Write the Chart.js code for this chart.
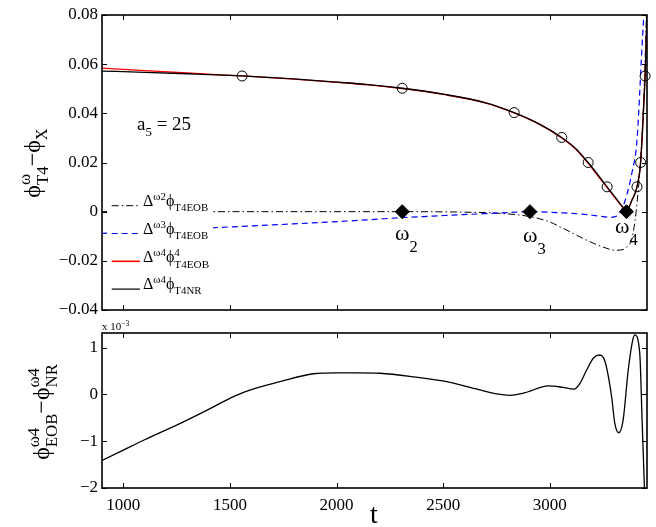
<!DOCTYPE html>
<html lang="en">
<head>
<meta charset="UTF-8">
<title>T4 phase differences, a5 = 25</title>
<style>
  body { margin: 0; background: #fff; overflow: hidden; }
  #fig { position: relative; width: 656px; height: 527px; font-family: "Liberation Serif", "DejaVu Serif", serif; color: #000; }
  .box { position: absolute; left: 0; width: 656px; }
  .lbl { position: absolute; white-space: nowrap; line-height: 1; }
  .rot { transform: translate(-50%, -50%) rotate(-90deg); }
  .sup { position: relative; font-size: 0.68em; top: -0.55em; }
  .sub { position: relative; font-size: 0.68em; top: 0.5em; }
  .osub { position: relative; font-size: 0.75em; top: 0.75em; }
  .stk { display: inline-block; font-size: 0.7em; line-height: 1.05; vertical-align: -0.5em; }
  .stk > span { display: block; }
  #legend { position: absolute; left: 107px; top: 193px; width: 106px; height: 108px; background: #fff; }
  #legend .row { position: absolute; left: 36px; font-size: 16px; line-height: 1; white-space: nowrap; }
</style>
</head>
<body>
<div id="fig">
  <div class="box" style="top:0;height:330px"><canvas id="topChart"></canvas></div>
  <div class="box" style="top:318px;height:209px"><canvas id="bottomChart"></canvas></div>

  <!-- axis titles and annotations -->
  <div class="lbl rot" style="left:34px;top:163px;font-size:24px">ϕ<span class="stk"><span>ω</span><span>T4</span></span>−ϕ<span class="sub">X</span></div>
  <div class="lbl rot" style="left:43px;top:412px;font-size:24px">ϕ<span class="stk"><span>ω4</span><span>EOB</span></span>−ϕ<span class="stk"><span>ω4</span><span>NR</span></span></div>
  <div class="lbl" style="left:374px;top:500px;font-size:28px;transform:translateX(-50%)">t</div>
  <div class="lbl" style="left:102px;top:321px;font-size:11px">x 10<span class="sup">−3</span></div>
  <div class="lbl" style="left:137px;top:114px;font-size:19px">a<span class="sub">5</span> = 25</div>
  <div class="lbl" style="left:395px;top:222px;font-size:22px">ω<span class="osub">2</span></div>
  <div class="lbl" style="left:523px;top:224px;font-size:22px">ω<span class="osub">3</span></div>
  <div class="lbl" style="left:615px;top:215px;font-size:22px">ω<span class="osub">4</span></div>

  <div id="legend">
    <svg width="106" height="108" style="position:absolute;left:0;top:0">
      <line x1="4.7" x2="33" y1="12.7" y2="12.7" stroke="#000" stroke-width="1" stroke-dasharray="7,3,1.5,3"/>
      <line x1="4.7" x2="33" y1="40.5" y2="40.5" stroke="#0000ff" stroke-width="1.2" stroke-dasharray="6,4"/>
      <line x1="4.7" x2="33" y1="68.3" y2="68.3" stroke="#ff0000" stroke-width="1.6"/>
      <line x1="4.7" x2="33" y1="96.1" y2="96.1" stroke="#000" stroke-width="1.2"/>
    </svg>
    <div class="row" style="top:0px">Δ<span class="sup">ω2</span>ϕ<span class="sub">T4EOB</span></div>
    <div class="row" style="top:28px">Δ<span class="sup">ω3</span>ϕ<span class="sub">T4EOB</span></div>
    <div class="row" style="top:54px">Δ<span class="sup">ω4</span>ϕ<span class="stk"><span>4</span><span>T4EOB</span></span></div>
    <div class="row" style="top:83px">Δ<span class="sup">ω4</span>ϕ<span class="sub">T4NR</span></div>
  </div>
</div>

<script src="https://cdn.jsdelivr.net/npm/chart.js@4"></script>
<script>
// axis limits and tick positions
const xMin = 900, xMax = 3456;
const xTicks = [1000, 1500, 2000, 2500, 3000];
const yTicksTop = [-0.04, -0.02, 0, 0.02, 0.04, 0.06, 0.08];
const yTicksBottom = [-2, -1, 0, 1];

// omega4-aligned phase differences (NR in black, EOB in red) share the same t samples
const tMain = [900, 1100, 1300, 1557, 1800, 1970, 2150, 2308, 2500, 2700, 2833, 2950, 3056, 3120, 3180, 3230, 3269, 3310, 3340, 3360, 3385, 3409, 3426, 3440, 3447, 3456];
const phiNR = [0.0572, 0.0567, 0.0561, 0.0552, 0.0540, 0.0529, 0.0517, 0.0502, 0.0478, 0.0443, 0.0403, 0.0357, 0.0302, 0.0258, 0.0200, 0.0145, 0.0101, 0.0055, 0.0022, 0.0004, 0.0046, 0.0101, 0.0200, 0.0420, 0.0552, 0.0800];
const phiEOB4 = [0.0584, 0.0574, 0.0564, 0.0552, 0.0539, 0.0528, 0.0516, 0.0501, 0.0477, 0.0442, 0.0402, 0.0356, 0.0300, 0.0256, 0.0197, 0.0141, 0.0098, 0.0052, 0.0020, 0.0003, 0.0046, 0.0101, 0.0200, 0.0422, 0.0555, 0.0800];

// omega3-aligned (blue dashed)
const tW3 = [900, 1100, 1300, 1500, 1700, 1970, 2150, 2308, 2450, 2593, 2752, 2907, 3062, 3150, 3222, 3282, 3315, 3343, 3365, 3385, 3409, 3432, 3441];
const phiW3 = [-0.0088, -0.0080, -0.0071, -0.0062, -0.0054, -0.0042, -0.0033, -0.0024, -0.0018, -0.0012, -0.0006, 0.0000, -0.0005, -0.0010, -0.0017, -0.0023, -0.0018, 0.0020, 0.0080, 0.0157, 0.0290, 0.0660, 0.0800];

// omega2-aligned (black dash-dot)
const tW2 = [900, 1400, 1900, 2308, 2600, 2752, 2907, 3000, 3063, 3188, 3260, 3305, 3344, 3365, 3383, 3395, 3405, 3425, 3445, 3453];
const phiW2 = [0.0000, 0.0000, 0.0000, 0.0000, -0.0002, -0.0006, -0.0020, -0.0042, -0.0068, -0.0122, -0.0147, -0.0157, -0.0154, -0.0140, -0.0117, -0.0065, 0.0000, 0.0200, 0.0550, 0.0800];

// open circles on the NR curve and the three matching frequencies
const tCircles = [1557, 2308, 2833, 3056, 3180, 3269, 3409, 3426, 3447];
const phiCircles = [0.0552, 0.0502, 0.0403, 0.0302, 0.0200, 0.0101, 0.0101, 0.0200, 0.0552];
const tOmega = [2308, 2907, 3360];
const phiOmega = [0, 0, 0];

// lower panel: EOB - NR, in units of 1e-3
const tDiff = [900, 1000, 1100, 1267, 1400, 1502, 1580, 1735, 1892, 2000, 2100, 2204, 2350, 2517, 2650, 2751, 2813, 2880, 2993, 3060, 3113, 3141, 3173, 3204, 3230, 3259, 3290, 3305, 3324, 3344, 3368, 3389, 3399, 3422, 3433, 3444, 3450];
const dDiff = [-1.41, -1.19, -0.97, -0.62, -0.32, -0.08, 0.07, 0.27, 0.44, 0.46, 0.46, 0.45, 0.38, 0.27, 0.12, 0.01, -0.02, 0.03, 0.18, 0.15, 0.11, 0.23, 0.52, 0.77, 0.84, 0.70, -0.05, -0.62, -0.82, -0.55, 0.52, 1.16, 1.27, 0.88, -0.55, -2.00, -2.80];

const pts = (ts, vs) => ts.map((t, i) => ({ x: t, y: vs[i] }));
const fixedTicks = list => s => { s.ticks = list.map(v => ({ value: v })); };
const minus = s => s.replace('-', '\u2212');

// box round the plot with inward ticks on all four sides
const framePlugin = {
    id: 'frame',
    afterDraw(chart) {
        const { ctx, chartArea: a, scales } = chart;
        const L = 5;
        ctx.save();
        ctx.strokeStyle = '#000';
        ctx.lineWidth = 1;
        ctx.beginPath();
        scales.x.ticks.forEach(t => {
            const px = Math.round(scales.x.getPixelForValue(t.value)) + 0.5;
            ctx.moveTo(px, a.bottom); ctx.lineTo(px, a.bottom - L);
            ctx.moveTo(px, a.top); ctx.lineTo(px, a.top + L);
        });
        scales.y.ticks.forEach(t => {
            const py = Math.round(scales.y.getPixelForValue(t.value)) + 0.5;
            ctx.moveTo(a.left, py); ctx.lineTo(a.left + L, py);
            ctx.moveTo(a.right, py); ctx.lineTo(a.right - L, py);
        });
        ctx.stroke();
        ctx.lineWidth = 1.6;
        ctx.strokeRect(a.left, a.top, a.right - a.left, a.bottom - a.top);
        ctx.restore();
    }
};

const font = { family: "'Liberation Serif', 'DejaVu Serif', serif", size: 17 };

function baseOptions(yMin, yMax, yTicks, yFormat, xLabels, xHeight, padTop) {
    return {
        responsive: true,
        maintainAspectRatio: false,
        animation: false,
        layout: { padding: { top: padTop, right: 9, left: 0, bottom: 0 } },
        elements: { line: { cubicInterpolationMode: 'monotone', fill: false } },
        plugins: { legend: { display: false }, tooltip: { enabled: false } },
        scales: {
            x: {
                type: 'linear', min: xMin, max: xMax,
                afterBuildTicks: fixedTicks(xTicks),
                afterFit: s => { s.height = xHeight; },
                grid: { display: false, drawTicks: false },
                border: { display: false },
                ticks: { display: xLabels, color: '#000', font: font, padding: 7, maxRotation: 0,
                         callback: v => String(v) }
            },
            y: {
                min: yMin, max: yMax,
                afterBuildTicks: fixedTicks(yTicks),
                afterFit: s => { s.width = 102; },
                grid: { display: false, drawTicks: false },
                border: { display: false },
                ticks: { color: '#000', font: font, padding: 4, callback: yFormat }
            }
        }
    };
}

new Chart(document.getElementById('topChart'), {
    type: 'line',
    data: {
        datasets: [
            { data: pts(tCircles, phiCircles), showLine: false, pointStyle: 'circle', pointRadius: 5,
              pointBorderColor: '#000', pointBackgroundColor: 'rgba(0,0,0,0)', pointBorderWidth: 1, order: 0, clip: 8 },
            { data: pts(tOmega, phiOmega), showLine: false, pointStyle: 'rectRot', pointRadius: 7,
              pointBorderColor: '#000', pointBackgroundColor: '#000', pointBorderWidth: 1, order: 0, clip: 8 },
            { data: pts(tMain, phiNR), borderColor: '#000', borderWidth: 1.3, pointRadius: 0, order: 1 },
            { data: pts(tMain, phiEOB4), borderColor: '#ff0000', borderWidth: 1.3, pointRadius: 0, order: 2 },
            { data: pts(tW3, phiW3), borderColor: '#0000ff', borderWidth: 1.2, borderDash: [6, 4], pointRadius: 0, order: 3 },
            { data: pts(tW2, phiW2), borderColor: '#000', borderWidth: 1, borderDash: [7, 3, 1.5, 3], pointRadius: 0, order: 4 }
        ]
    },
    options: baseOptions(-0.04, 0.08, yTicksTop,
        v => v === 0 ? '0' : minus(v.toFixed(2)), false, 20, 15),
    plugins: [framePlugin]
});

new Chart(document.getElementById('bottomChart'), {
    type: 'line',
    data: {
        datasets: [
            { data: pts(tDiff, dDiff), borderColor: '#000', borderWidth: 1.3, pointRadius: 0 }
        ]
    },
    options: baseOptions(-2, 1.31, yTicksBottom, v => minus(String(v)), true, 39, 15),
    plugins: [framePlugin]
});
</script>
</body>
</html>
